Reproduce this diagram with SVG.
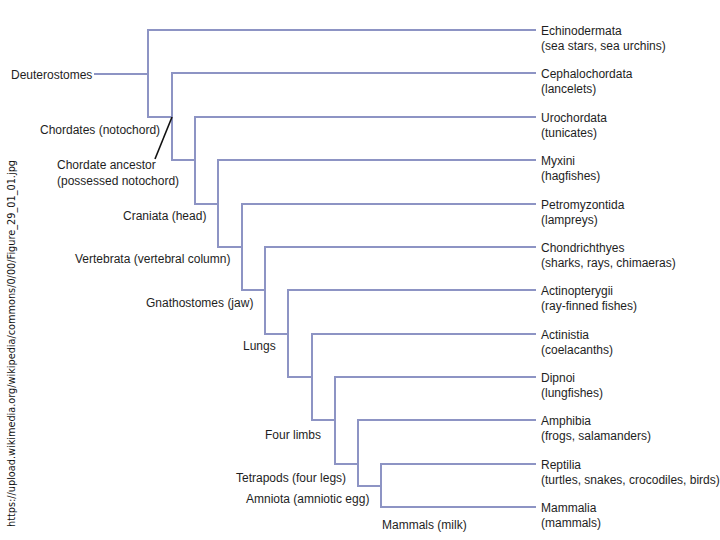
<svg xmlns="http://www.w3.org/2000/svg" width="720" height="540" viewBox="0 0 720 540">
<style>
.t{font-family:"Liberation Sans",Arial,sans-serif;font-size:12px;fill:#1e1e1e}
.ln{fill:none;stroke:#8d94c4;stroke-width:2;stroke-linecap:square}
.wm{font-family:"DejaVu Sans","Liberation Sans",sans-serif;font-size:10px;fill:#111}
</style>
<rect width="720" height="540" fill="#ffffff"/>
<g id="connectors">
<path class="ln" d="M95,74H148 M148,30V117H172 M172,73V160H195 M195,117V204H218 M218,160V247H242 M242,204V290H265 M265,247V334H288 M288,290V377H312 M312,334V420H335 M335,377V464H358 M358,420V486H381 M381,464V507"/>
<path class="ln" d="M148,30H535 M172,73H535 M195,117H535 M218,160H535 M242,204H535 M265,247H535 M288,290H535 M312,334H535 M335,377H535 M358,420H535 M381,464H535 M381,507H535"/>
<line x1="172" y1="117" x2="155" y2="159" stroke="#111" stroke-width="1.6"/>
</g>
<g id="leaf-echinodermata"><text class="t" x="541" y="35">Echinodermata</text><text class="t" x="541" y="50">(sea stars, sea urchins)</text></g>
<g id="leaf-cephalochordata"><text class="t" x="541" y="78">Cephalochordata</text><text class="t" x="541" y="93">(lancelets)</text></g>
<g id="leaf-urochordata"><text class="t" x="541" y="122">Urochordata</text><text class="t" x="541" y="137">(tunicates)</text></g>
<g id="leaf-myxini"><text class="t" x="541" y="165">Myxini</text><text class="t" x="541" y="180">(hagfishes)</text></g>
<g id="leaf-petromyzontida"><text class="t" x="541" y="209">Petromyzontida</text><text class="t" x="541" y="224">(lampreys)</text></g>
<g id="leaf-chondrichthyes"><text class="t" x="541" y="252">Chondrichthyes</text><text class="t" x="541" y="267">(sharks, rays, chimaeras)</text></g>
<g id="leaf-actinopterygii"><text class="t" x="541" y="295">Actinopterygii</text><text class="t" x="541" y="310">(ray-finned fishes)</text></g>
<g id="leaf-actinistia"><text class="t" x="541" y="339">Actinistia</text><text class="t" x="541" y="354">(coelacanths)</text></g>
<g id="leaf-dipnoi"><text class="t" x="541" y="382">Dipnoi</text><text class="t" x="541" y="397">(lungfishes)</text></g>
<g id="leaf-amphibia"><text class="t" x="541" y="425">Amphibia</text><text class="t" x="541" y="440">(frogs, salamanders)</text></g>
<g id="leaf-reptilia"><text class="t" x="541" y="469">Reptilia</text><text class="t" x="541" y="484">(turtles, snakes, crocodiles, birds)</text></g>
<g id="leaf-mammalia"><text class="t" x="541" y="512">Mammalia</text><text class="t" x="541" y="527">(mammals)</text></g>
<g id="clade-deuterostomes"><text class="t" x="11" y="79">Deuterostomes</text></g>
<g id="clade-chordates"><text class="t" x="40" y="134">Chordates (notochord)</text></g>
<g id="chordate-ancestor"><text class="t" x="57" y="169">Chordate ancestor</text><text class="t" x="57" y="185">(possessed notochord)</text></g>
<g id="clade-craniata"><text class="t" x="123" y="220">Craniata (head)</text></g>
<g id="clade-vertebrata"><text class="t" x="75" y="263">Vertebrata (vertebral column)</text></g>
<g id="clade-gnathostomes"><text class="t" x="146" y="307">Gnathostomes (jaw)</text></g>
<g id="clade-lungs"><text class="t" x="243" y="350">Lungs</text></g>
<g id="clade-four-limbs"><text class="t" x="265" y="439">Four limbs</text></g>
<g id="clade-tetrapods"><text class="t" x="236" y="482">Tetrapods (four legs)</text></g>
<g id="clade-amniota"><text class="t" x="246" y="503">Amniota (amniotic egg)</text></g>
<g id="clade-mammals"><text class="t" x="382" y="529">Mammals (milk)</text></g>
<g id="watermark"><text class="wm" transform="translate(15,527) rotate(-90)" textLength="367" lengthAdjust="spacingAndGlyphs">https://upload.wikimedia.org/wikipedia/commons/0/00/Figure_29_01_01.jpg</text></g>
</svg>
